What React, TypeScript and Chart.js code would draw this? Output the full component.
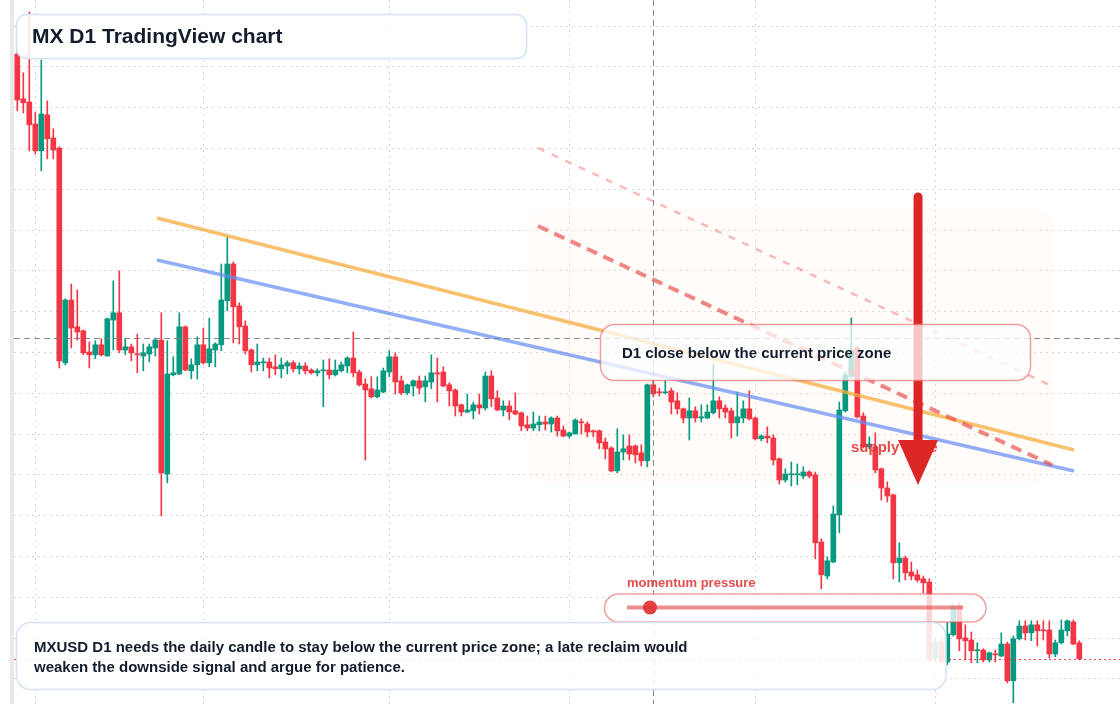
import React, { useEffect, useRef } from "react";
import { Chart, registerables } from "chart.js";

Chart.register(...registerables);

// ---------- data ----------
const START_DATE = "2025-01-29"; // first daily candle

const OPEN = [
  3.565, 3.453, 3.445, 3.390, 3.323, 3.413, 3.355, 3.330, 2.793, 2.950,
  2.883, 2.873, 2.820, 2.813, 2.838, 2.810, 2.900, 2.918, 2.825, 2.833,
  2.815, 2.810, 2.815, 2.830, 2.850, 2.515, 2.763, 2.765, 2.883, 2.773,
  2.788, 2.838, 2.793, 2.825, 2.838, 2.948, 3.040, 2.935, 2.885, 2.825,
  2.788, 2.793, 2.795, 2.783, 2.778, 2.785, 2.793, 2.778, 2.785, 2.775,
  2.768, 2.773, 2.775, 2.763, 2.773, 2.785, 2.805, 2.770, 2.740, 2.728,
  2.708, 2.720, 2.770, 2.808, 2.748, 2.718, 2.735, 2.748, 2.733, 2.745,
  2.768, 2.770, 2.738, 2.725, 2.688, 2.670, 2.673, 2.688, 2.680, 2.760,
  2.705, 2.675, 2.685, 2.673, 2.668, 2.638, 2.630, 2.638, 2.645, 2.640,
  2.655, 2.625, 2.610, 2.615, 2.645, 2.640, 2.623, 2.623, 2.595, 2.580,
  2.523, 2.570, 2.585, 2.585, 2.568, 2.548, 2.738, 2.720, 2.718, 2.723,
  2.698, 2.678, 2.655, 2.673, 2.655, 2.655, 2.668, 2.698, 2.680, 2.673,
  2.643, 2.655, 2.678, 2.655, 2.603, 2.610, 2.605, 2.553, 2.500, 2.513,
  2.513, 2.510, 2.520, 2.513, 2.345, 2.260, 2.295, 2.413, 2.673, 2.758,
  2.830, 2.660, 2.583, 2.583, 2.528, 2.480, 2.463, 2.293, 2.305, 2.270,
  2.263, 2.253, 2.245, 2.055, 2.095, 2.045, 2.113, 2.185, 2.105, 2.100,
  2.073, 2.075, 2.050, 2.065, 2.060, 2.090, 1.998, 2.103, 2.135, 2.118,
  2.138, 2.125, 2.125, 2.065, 2.093, 2.123, 2.145, 2.093,
];

const HIGH = [
  3.585, 3.518, 3.670, 3.420, 3.550, 3.448, 3.378, 3.333, 2.953, 2.990,
  2.975, 2.875, 2.845, 2.848, 2.853, 2.905, 2.998, 3.023, 2.853, 2.840,
  2.865, 2.840, 2.840, 2.853, 2.918, 2.848, 2.808, 2.918, 2.885, 2.803,
  2.858, 2.880, 2.905, 2.843, 3.040, 3.108, 3.045, 2.943, 2.898, 2.828,
  2.840, 2.805, 2.805, 2.813, 2.805, 2.798, 2.798, 2.793, 2.793, 2.778,
  2.778, 2.800, 2.803, 2.800, 2.795, 2.808, 2.870, 2.775, 2.753, 2.758,
  2.758, 2.780, 2.823, 2.818, 2.760, 2.740, 2.750, 2.760, 2.760, 2.813,
  2.805, 2.783, 2.743, 2.728, 2.690, 2.715, 2.695, 2.715, 2.770, 2.773,
  2.723, 2.698, 2.698, 2.718, 2.670, 2.660, 2.670, 2.660, 2.660, 2.658,
  2.660, 2.635, 2.620, 2.653, 2.653, 2.645, 2.625, 2.625, 2.605, 2.583,
  2.628, 2.613, 2.613, 2.588, 2.588, 2.740, 2.750, 2.730, 2.750, 2.730,
  2.718, 2.680, 2.705, 2.683, 2.688, 2.688, 2.790, 2.708, 2.688, 2.680,
  2.720, 2.698, 2.723, 2.658, 2.613, 2.633, 2.613, 2.555, 2.528, 2.545,
  2.540, 2.533, 2.523, 2.520, 2.353, 2.308, 2.435, 2.695, 2.770, 2.905,
  2.833, 2.668, 2.608, 2.618, 2.530, 2.495, 2.465, 2.343, 2.310, 2.295,
  2.275, 2.260, 2.253, 2.105, 2.108, 2.145, 2.190, 2.193, 2.138, 2.120,
  2.093, 2.078, 2.070, 2.075, 2.118, 2.095, 2.110, 2.148, 2.148, 2.148,
  2.148, 2.148, 2.148, 2.100, 2.150, 2.150, 2.150, 2.098,
];

const LOW = [
  3.423, 3.418, 3.323, 3.315, 3.273, 3.303, 3.303, 2.780, 2.788, 2.830,
  2.850, 2.813, 2.780, 2.803, 2.810, 2.810, 2.825, 2.818, 2.813, 2.798,
  2.768, 2.773, 2.795, 2.810, 2.410, 2.493, 2.760, 2.763, 2.773, 2.753,
  2.753, 2.790, 2.783, 2.783, 2.823, 2.923, 2.843, 2.840, 2.815, 2.770,
  2.773, 2.773, 2.755, 2.763, 2.755, 2.765, 2.770, 2.765, 2.765, 2.765,
  2.760, 2.683, 2.753, 2.760, 2.770, 2.768, 2.758, 2.735, 2.550, 2.705,
  2.705, 2.718, 2.758, 2.715, 2.713, 2.713, 2.710, 2.715, 2.695, 2.728,
  2.695, 2.733, 2.685, 2.660, 2.660, 2.668, 2.653, 2.665, 2.675, 2.683,
  2.673, 2.660, 2.650, 2.663, 2.623, 2.623, 2.623, 2.623, 2.625, 2.620,
  2.610, 2.608, 2.605, 2.615, 2.615, 2.608, 2.608, 2.578, 2.553, 2.520,
  2.518, 2.550, 2.550, 2.543, 2.535, 2.533, 2.708, 2.710, 2.715, 2.665,
  2.665, 2.643, 2.600, 2.645, 2.645, 2.653, 2.665, 2.655, 2.655, 2.605,
  2.610, 2.643, 2.650, 2.600, 2.598, 2.593, 2.538, 2.490, 2.495, 2.485,
  2.488, 2.503, 2.505, 2.303, 2.228, 2.253, 2.293, 2.368, 2.670, 2.755,
  2.655, 2.580, 2.578, 2.518, 2.450, 2.445, 2.253, 2.245, 2.250, 2.250,
  2.245, 2.218, 2.045, 2.045, 2.043, 2.038, 2.110, 2.073, 2.050, 2.043,
  2.043, 2.045, 2.045, 2.045, 2.058, 1.993, 1.943, 2.100, 2.100, 2.098,
  2.085, 2.100, 2.055, 2.058, 2.090, 2.110, 2.088, 2.050,
];

const CLOSE = [
  3.450, 3.443, 3.388, 3.323, 3.415, 3.353, 3.325, 2.798, 2.950, 2.880,
  2.870, 2.818, 2.813, 2.838, 2.813, 2.903, 2.918, 2.825, 2.833, 2.818,
  2.813, 2.818, 2.833, 2.850, 2.518, 2.765, 2.768, 2.883, 2.775, 2.788,
  2.838, 2.793, 2.828, 2.840, 2.950, 3.040, 2.933, 2.883, 2.823, 2.788,
  2.795, 2.795, 2.780, 2.778, 2.788, 2.793, 2.778, 2.785, 2.773, 2.768,
  2.773, 2.775, 2.763, 2.775, 2.788, 2.805, 2.768, 2.738, 2.725, 2.708,
  2.725, 2.773, 2.808, 2.745, 2.718, 2.738, 2.748, 2.730, 2.748, 2.768,
  2.765, 2.735, 2.723, 2.685, 2.670, 2.675, 2.688, 2.680, 2.760, 2.703,
  2.675, 2.685, 2.670, 2.665, 2.635, 2.630, 2.640, 2.645, 2.640, 2.655,
  2.623, 2.610, 2.618, 2.650, 2.643, 2.620, 2.620, 2.593, 2.578, 2.523,
  2.570, 2.578, 2.565, 2.563, 2.548, 2.738, 2.715, 2.718, 2.720, 2.695,
  2.678, 2.655, 2.673, 2.655, 2.658, 2.670, 2.698, 2.678, 2.670, 2.643,
  2.658, 2.678, 2.653, 2.603, 2.610, 2.605, 2.550, 2.500, 2.515, 2.515,
  2.515, 2.520, 2.510, 2.343, 2.263, 2.298, 2.415, 2.675, 2.763, 2.825,
  2.658, 2.583, 2.590, 2.525, 2.480, 2.460, 2.293, 2.305, 2.268, 2.260,
  2.250, 2.243, 2.050, 2.095, 2.045, 2.115, 2.185, 2.103, 2.098, 2.073,
  2.075, 2.050, 2.068, 2.063, 2.090, 1.998, 2.103, 2.135, 2.118, 2.138,
  2.123, 2.123, 2.065, 2.093, 2.125, 2.148, 2.090, 2.053,
];

// horizontal grid levels (price)
const PRICE_GRID = [
  3.635, 3.533, 3.431, 3.329, 3.227, 3.125, 3.023, 2.921, 2.819,
  2.717, 2.615, 2.513, 2.411, 2.309, 2.207, 2.105, 2.003,
];

// trend lines: [candle index, price]
const TREND_ORANGE = [{ x: 23.28, y: 3.155 }, { x: 176.12, y: 2.575 }];
const TREND_BLUE = [{ x: 23.28, y: 3.05 }, { x: 176.12, y: 2.5225 }];
const CHANNEL_LOWER = [{ x: 86.78, y: 3.135 }, { x: 172.45, y: 2.5375 }];
const CHANNEL_UPPER = [{ x: 86.78, y: 3.33 }, { x: 172.45, y: 2.735 }];

// annotations in data space
const CROSS_INDEX = 106;
const CROSS_PRICE = 2.855;
const ZONE = { from: 84.95, to: 172.45, top: 3.18, bottom: 2.495 };
const ARROW = { index: 150.12, top: 3.2075, headBase: 2.6, tip: 2.4875 };
const SUPPLY_LABEL = { index: 138.95, price: 2.58, text: "supply zone" };

const X_MIN = -0.55;
const X_MAX = 183.78;
const Y_MIN = 1.94;
const Y_MAX = 3.7;

const GREEN = "#089981";
const RED = "#f23645";
const FONT = '"Liberation Sans", Arial, Helvetica, sans-serif';

function rr(ctx: CanvasRenderingContext2D, x: number, y: number, w: number, h: number, r: number) {
  ctx.beginPath();
  ctx.moveTo(x + r, y);
  ctx.lineTo(x + w - r, y);
  ctx.arcTo(x + w, y, x + w, y + r, r);
  ctx.lineTo(x + w, y + h - r);
  ctx.arcTo(x + w, y + h, x + w - r, y + h, r);
  ctx.lineTo(x + r, y + h);
  ctx.arcTo(x, y + h, x, y + h - r, r);
  ctx.lineTo(x, y + r);
  ctx.arcTo(x, y, x + r, y, r);
  ctx.closePath();
}

function monthStartIndices(n: number): number[] {
  const [yy, mm, dd] = START_DATE.split("-").map(Number);
  const out: number[] = [];
  for (let i = 0; i < n; i++) {
    const d = new Date(Date.UTC(yy, mm - 1, dd + i));
    if (d.getUTCDate() === 1) out.push(i);
  }
  return out;
}

const overlayPlugin = {
  id: "overlay",
  beforeDraw(chart: any) {
    const ctx = chart.ctx as CanvasRenderingContext2D;
    ctx.save();
    ctx.fillStyle = "#ffffff";
    ctx.fillRect(0, 0, chart.width, chart.height);
    ctx.fillStyle = "#e9e9e9";
    ctx.fillRect(10, 0, 4, chart.height);
    ctx.restore();
  },
  beforeDatasetsDraw(chart: any) {
    const ctx = chart.ctx as CanvasRenderingContext2D;
    const { x, y } = chart.scales;
    const x0 = x.getPixelForValue(ZONE.from);
    const x1 = x.getPixelForValue(ZONE.to);
    const y0 = y.getPixelForValue(ZONE.top);
    const y1 = y.getPixelForValue(ZONE.bottom);
    ctx.save();
    rr(ctx, x0, y0, x1 - x0, y1 - y0, 18);
    ctx.fillStyle = "rgba(255, 240, 228, 0.22)";
    ctx.fill();
    ctx.restore();
  },
  afterDatasetsDraw(chart: any) {
    const ctx = chart.ctx as CanvasRenderingContext2D;
    const { x, y } = chart.scales;
    const area = chart.chartArea;
    ctx.save();

    // crosshair
    ctx.strokeStyle = "rgba(120,120,120,0.85)";
    ctx.lineWidth = 1;
    ctx.setLineDash([6, 4]);
    const cx = Math.round(x.getPixelForValue(CROSS_INDEX)) + 0.5;
    const cy = Math.round(y.getPixelForValue(CROSS_PRICE)) + 0.5;
    ctx.beginPath();
    ctx.moveTo(cx, area.top);
    ctx.lineTo(cx, area.bottom);
    ctx.moveTo(area.left, cy);
    ctx.lineTo(area.right, cy);
    ctx.stroke();

    // last price line
    const lp = Math.round(y.getPixelForValue(CLOSE[CLOSE.length - 1])) + 0.5;
    ctx.strokeStyle = RED;
    ctx.setLineDash([2, 3]);
    ctx.beginPath();
    ctx.moveTo(area.left, lp);
    ctx.lineTo(area.right, lp);
    ctx.stroke();
    ctx.setLineDash([]);

    // supply zone label
    ctx.font = `bold 15px ${FONT}`;
    ctx.fillStyle = "rgba(226, 52, 52, 0.9)";
    ctx.textBaseline = "middle";
    ctx.textAlign = "left";
    ctx.fillText(SUPPLY_LABEL.text, x.getPixelForValue(SUPPLY_LABEL.index), y.getPixelForValue(SUPPLY_LABEL.price));

    // arrow
    const ax = x.getPixelForValue(ARROW.index);
    const aTop = y.getPixelForValue(ARROW.top);
    const aBase = y.getPixelForValue(ARROW.headBase);
    const aTip = y.getPixelForValue(ARROW.tip);
    ctx.strokeStyle = "#dc2626";
    ctx.lineWidth = 9;
    ctx.lineCap = "round";
    ctx.beginPath();
    ctx.moveTo(ax, aTop);
    ctx.lineTo(ax, aBase + 4);
    ctx.stroke();
    ctx.lineCap = "butt";
    ctx.fillStyle = "#dc2626";
    ctx.beginPath();
    ctx.moveTo(ax - 20, aBase);
    ctx.lineTo(ax + 20, aBase);
    ctx.lineTo(ax, aTip);
    ctx.closePath();
    ctx.fill();

    // title box
    rr(ctx, 16.5, 14.5, 510, 44, 10);
    ctx.fillStyle = "rgba(255,255,255,0.86)";
    ctx.fill();
    ctx.strokeStyle = "#d4e2f6";
    ctx.lineWidth = 1.5;
    ctx.stroke();
    ctx.fillStyle = "#131c2b";
    ctx.font = `bold 21px ${FONT}`;
    ctx.fillText("MX D1 TradingView chart", 32, 37);

    // D1 close box
    rr(ctx, 600.5, 324.5, 430, 56, 14);
    ctx.fillStyle = "rgba(255,255,255,0.74)";
    ctx.fill();
    ctx.strokeStyle = "rgba(232, 96, 96, 0.6)";
    ctx.lineWidth = 1.5;
    ctx.stroke();
    ctx.fillStyle = "#131c2b";
    ctx.font = `bold 15px ${FONT}`;
    ctx.fillText("D1 close below the current price zone", 622, 354);

    // momentum pressure gauge
    ctx.fillStyle = "rgba(226, 60, 60, 0.92)";
    ctx.font = `bold 13px ${FONT}`;
    ctx.fillText("momentum pressure", 627, 583);
    rr(ctx, 604.5, 594, 381.5, 28, 14);
    ctx.fillStyle = "rgba(255,255,255,0.78)";
    ctx.fill();
    ctx.strokeStyle = "rgba(232, 96, 96, 0.6)";
    ctx.lineWidth = 1.5;
    ctx.stroke();
    ctx.strokeStyle = "rgba(228, 80, 80, 0.65)";
    ctx.lineWidth = 4;
    ctx.beginPath();
    ctx.moveTo(627, 607.5);
    ctx.lineTo(963, 607.5);
    ctx.stroke();
    ctx.fillStyle = "rgba(224, 50, 50, 0.92)";
    ctx.beginPath();
    ctx.arc(650, 607.5, 7, 0, Math.PI * 2);
    ctx.fill();

    // bottom note box
    rr(ctx, 16.5, 622.5, 929.5, 67, 14);
    ctx.fillStyle = "rgba(255,255,255,0.88)";
    ctx.fill();
    ctx.strokeStyle = "#d4e2f6";
    ctx.lineWidth = 1.5;
    ctx.stroke();
    ctx.fillStyle = "#131c2b";
    ctx.font = `bold 15px ${FONT}`;
    ctx.fillText(
      "MXUSD D1 needs the daily candle to stay below the current price zone; a late reclaim would",
      34,
      648
    );
    ctx.fillText("weaken the downside signal and argue for patience.", 34, 668);

    ctx.restore();
  },
};

export default function App() {
  const ref = useRef<HTMLCanvasElement | null>(null);

  useEffect(() => {
    document.body.style.margin = "0";
    const n = CLOSE.length;
    const idx = Array.from({ length: n }, (_, i) => i);
    const wickData = idx.map((i) => ({ x: i, y: [LOW[i], HIGH[i]] }));
    const bodyData = idx.map((i) => ({ x: i, y: [OPEN[i], CLOSE[i]] }));
    const colors = idx.map((i) => (CLOSE[i] >= OPEN[i] ? GREEN : RED));
    const monthTicks = monthStartIndices(n);

    const gridCommon = {
      color: "rgba(0,0,0,0.17)",
      lineWidth: 1,
      drawTicks: false,
      offset: false,
    };

    const chart = new Chart(ref.current as HTMLCanvasElement, {
      type: "bar",
      data: {
        datasets: [
          {
            type: "line",
            data: CHANNEL_UPPER,
            borderColor: "rgba(240, 120, 120, 0.5)",
            borderWidth: 2.5,
            borderDash: [7, 8],
            pointRadius: 0,
            fill: false,
            order: 0,
          },
          {
            type: "line",
            data: CHANNEL_LOWER,
            borderColor: "rgba(230, 70, 70, 0.65)",
            borderWidth: 4,
            borderDash: [11, 7],
            pointRadius: 0,
            fill: false,
            order: 0,
          },
          {
            type: "line",
            data: TREND_ORANGE,
            borderColor: "rgba(246, 172, 60, 0.75)",
            borderWidth: 3.5,
            pointRadius: 0,
            fill: false,
            order: 0,
          },
          {
            type: "line",
            data: TREND_BLUE,
            borderColor: "rgba(100, 140, 245, 0.7)",
            borderWidth: 3.5,
            pointRadius: 0,
            fill: false,
            order: 0,
          },
          {
            type: "bar",
            data: bodyData as any,
            backgroundColor: colors,
            barThickness: 5,
            minBarLength: 1,
            grouped: false,
            borderWidth: 0,
            order: 1,
          },
          {
            type: "bar",
            data: wickData as any,
            backgroundColor: colors,
            barThickness: 1,
            grouped: false,
            borderWidth: 0,
            order: 2,
          },
        ] as any,
      },
      options: {
        animation: false,
        responsive: false,
        events: [],
        layout: { padding: { left: 14, right: 0, top: 0, bottom: 0 } },
        plugins: { legend: { display: false }, tooltip: { enabled: false } },
        scales: {
          x: {
            type: "linear",
            min: X_MIN,
            max: X_MAX,
            offset: false,
            ticks: { display: false },
            grid: gridCommon,
            border: { display: false, dash: [2, 4] },
            afterBuildTicks: (s: any) => {
              s.ticks = monthTicks.map((v) => ({ value: v }));
            },
          },
          y: {
            type: "linear",
            min: Y_MIN,
            max: Y_MAX,
            beginAtZero: false,
            ticks: { display: false },
            grid: gridCommon,
            border: { display: false, dash: [2, 4] },
            afterBuildTicks: (s: any) => {
              s.ticks = PRICE_GRID.map((v) => ({ value: v }));
            },
          },
        },
      } as any,
      plugins: [overlayPlugin as any],
    });

    return () => chart.destroy();
  }, []);

  return (
    <div style={{ position: "fixed", left: 0, top: 0, width: 1120, height: 704 }}>
      <canvas ref={ref} width={1120} height={704} style={{ display: "block" }} />
    </div>
  );
}
